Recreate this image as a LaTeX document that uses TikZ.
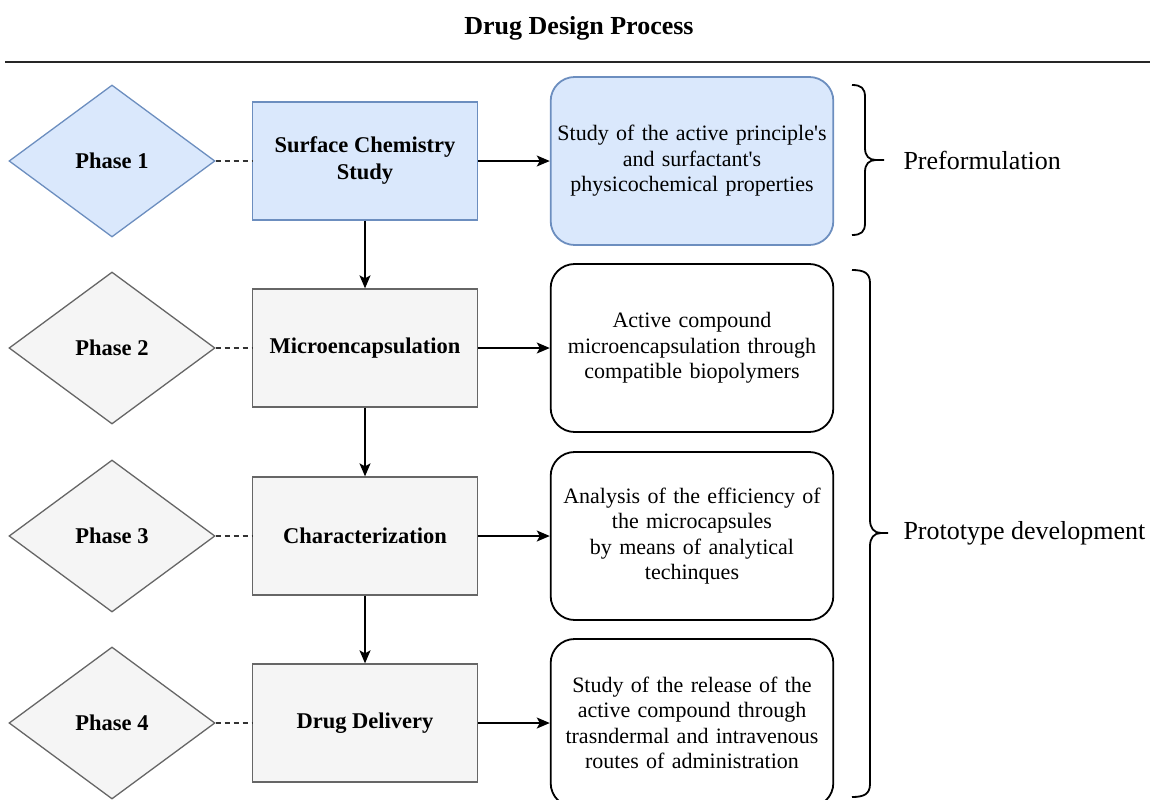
\documentclass[tikz,border=0pt]{standalone}
\usepackage{fontspec}
\setmainfont{Liberation Serif}
\usetikzlibrary{shapes.geometric,arrows.meta}
\definecolor{blueFill}{HTML}{DAE8FC}
\definecolor{blueDraw}{HTML}{6C8EBF}
\definecolor{grayFill}{HTML}{F5F5F5}
\definecolor{grayDraw}{HTML}{666666}
\tikzset{
  phase/.style={diamond, draw=grayDraw, fill=grayFill, line width=1.3pt, minimum width=206pt, minimum height=152pt, inner sep=0pt, font=\bfseries\fontsize{22.5}{26}\selectfont},
  stagebox/.style={rectangle, draw=grayDraw, fill=grayFill, line width=1.3pt, minimum width=225pt, minimum height=118pt, align=center, font=\bfseries\fontsize{22.5}{27}\selectfont},
  descbox/.style={rectangle, rounded corners=24pt, draw=black, fill=white, line width=1.8pt, minimum width=280pt, minimum height=168pt, text width=276pt, align=center, font=\fontsize{22}{25.5}\selectfont},
  bluestyle/.style={draw=blueDraw, fill=blueFill},
  flow/.style={line width=1.6pt, -{Stealth[length=13pt,width=11pt,inset=3pt]}},
  link/.style={line width=1.3pt, dash pattern=on 5pt off 4pt, draw=black!80},
  grp/.style={line width=1.8pt, line join=round},
  grplabel/.style={anchor=west, font=\fontsize{26}{30}\selectfont}
}
\begin{document}
\begin{tikzpicture}[x=1pt,y=-1pt]
\useasboundingbox (0,0) rectangle (1152,800);
\node[font=\bfseries\fontsize{26}{30}\selectfont] (title) at (579,28) {Drug Design Process};
\draw[line width=2.2pt, draw=black!85] (5,62) -- (1150,62);

% phases
\node[phase, bluestyle] (p1) at (112,161) {Phase 1};
\node[phase] (p2) at (112,348) {Phase 2};
\node[phase] (p3) at (112,536) {Phase 3};
\node[phase] (p4) at (112,723) {Phase 4};

% stages
\node[stagebox, bluestyle] (s1) at (365,161) {Surface Chemistry\\Study};
\node[stagebox] (s2) at (365,348) {Microencapsulation};
\node[stagebox] (s3) at (365,536) {Characterization};
\node[stagebox] (s4) at (365,723) {Drug Delivery};

% descriptions
\node[descbox, bluestyle] (d1) at (692,161) {Study of the active principle\textquotesingle s\\and surfactant\textquotesingle s\\physicochemical properties};
\node[descbox] (d2) at (692,348) {Active compound\\microencapsulation through\\compatible biopolymers};
\node[descbox] (d3) at (692,536) {Analysis of the efficiency of\\the microcapsules\\by means of analytical\\techinques};
\node[descbox] (d4) at (692,723) {Study of the release of the\\active compound through\\trasndermal and intravenous\\routes of administration};

% connectors
\foreach \i in {1,2,3,4} {
  \draw[link] (p\i.east) -- (s\i.west);
  \draw[flow] (s\i.east) -- (d\i.west);
}
\draw[flow] (s1.south) -- (s2.north);
\draw[flow] (s2.south) -- (s3.north);
\draw[flow] (s3.south) -- (s4.north);

% braces
\draw[grp] (852,85) .. controls (861,85) and (865,88) .. (865,97)
  -- (865,148) .. controls (865,156) and (869,160) .. (876,160) -- (884,160)
  (876,160) .. controls (869,160) and (865,164) .. (865,172)
  -- (865,223) .. controls (865,232) and (861,235) .. (852,235);
\draw[grp] (852,270) .. controls (864,270) and (870,273) .. (870,283)
  -- (870,520) .. controls (870,528) and (874,533) .. (881,533) -- (888,533)
  (881,533) .. controls (874,533) and (870,538) .. (870,546)
  -- (870,784) .. controls (870,794) and (864,797) .. (852,797);
\node[grplabel] (l1) at (900,160) {Preformulation};
\node[grplabel] (l2) at (900,533) {Prototype development};
\end{tikzpicture}
\end{document}
